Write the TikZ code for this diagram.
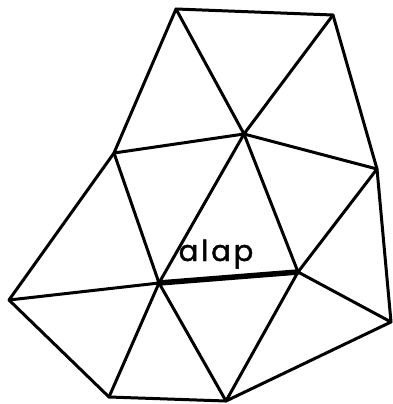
\documentclass[tikz,border=0pt]{standalone}
\usepackage{fontspec}
\newfontfamily\labelfont[LetterSpace=10, FakeBold=1.5]{Poppins}
\usepackage{tikz}

\begin{document}
\begin{tikzpicture}[x=1pt, y=-1pt, edge/.style={line width=3pt, line cap=round, line join=round}, thickedge/.style={line width=5.5pt, line cap=round}]
                \useasboundingbox (0,0) rectangle (392,404);
                
                % vertices of the mesh
                \coordinate (top) at (176,9);
                \coordinate (topright) at (333,15);
                \coordinate (mid) at (244,134);
                \coordinate (leftup) at (114,153);
                \coordinate (right) at (377,169);
                \coordinate (left) at (9,300);
                \coordinate (p) at (159,283);
                \coordinate (q) at (298,272);
                \coordinate (rightlow) at (391,322);
                \coordinate (botleft) at (109,397);
                \coordinate (bot) at (226,401);
                
                % outer boundary
                \draw[edge] (top) -- (topright) -- (right) -- (rightlow) -- (bot) -- (botleft) -- (left) -- (leftup) -- cycle;
                
                % inner edges
                \foreach \a/\b in {top/mid, topright/mid, mid/leftup, mid/right, mid/p, mid/q, leftup/p, right/q, q/rightlow, left/p, p/botleft, p/bot, q/bot}
                    { \draw[edge] (\a) -- (\b); }
                
                \draw[thickedge] (p) -- (q);
                \node[anchor=base, inner sep=0pt] (alap) at (216,261) {\labelfont\fontsize{29}{29}\selectfont alap};
            \end{tikzpicture}
\end{document}
